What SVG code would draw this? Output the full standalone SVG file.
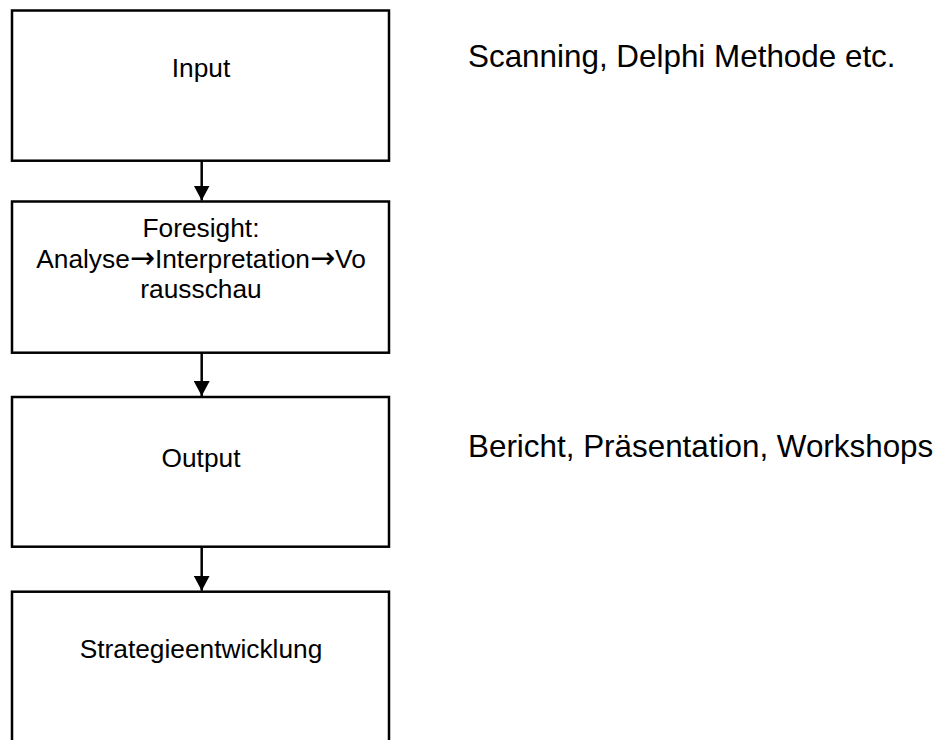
<svg xmlns="http://www.w3.org/2000/svg" width="946" height="740" viewBox="0 0 946 740">
  <defs>
    <style>
      .box { fill: #ffffff; stroke: #000000; stroke-width: 2.5; }
      .label { font-family: "Liberation Sans", Arial, sans-serif; font-size: 26.3px; fill: #000000; text-anchor: middle; }
      .sym { font-family: "DejaVu Sans", sans-serif; font-size: 30px; }
      .note { font-family: "Liberation Sans", Arial, sans-serif; font-size: 31.4px; fill: #000000; }
      .conn { stroke: #000000; stroke-width: 2.5; fill: none; }
    </style>
    <marker id="arrow" viewBox="0 0 15 16" refX="15" refY="8" markerWidth="15" markerHeight="16" markerUnits="userSpaceOnUse" orient="auto">
      <path d="M0,0 L15,8 L0,16 Z" fill="#000000"/>
    </marker>
  </defs>
  <rect width="946" height="740" fill="#ffffff"/>

  <!-- process steps -->
  <g id="node-input">
    <rect class="box" x="12" y="10.5" width="377" height="150.2"/>
    <text class="label" x="201" y="76.5">Input</text>
  </g>
  <g id="node-foresight">
    <rect class="box" x="12" y="201.5" width="377" height="151.2"/>
    <text class="label" x="201" y="237">Foresight:</text>
    <text class="label" x="201" y="267.5">Analyse<tspan class="sym">→</tspan>Interpretation<tspan class="sym">→</tspan>Vo</text>
    <text class="label" x="201" y="298">rausschau</text>
  </g>
  <g id="node-output">
    <rect class="box" x="12" y="397" width="377" height="149.7"/>
    <text class="label" x="201" y="466.7">Output</text>
  </g>
  <g id="node-strategie">
    <rect class="box" x="12" y="591.7" width="377" height="160"/>
    <text class="label" x="201" y="657.5">Strategieentwicklung</text>
  </g>

  <!-- side notes -->
  <g id="note-input">
    <text class="note" x="468" y="67.3">Scanning, Delphi Methode etc.</text>
  </g>
  <g id="note-output">
    <text class="note" x="468" y="456.8">Bericht, Präsentation, Workshops</text>
  </g>

  <!-- connectors -->
  <g id="connectors">
    <line class="conn" x1="201.7" y1="160.7" x2="201.7" y2="200.5" marker-end="url(#arrow)"/>
    <line class="conn" x1="201.7" y1="352.7" x2="201.7" y2="396" marker-end="url(#arrow)"/>
    <line class="conn" x1="201.7" y1="546.7" x2="201.7" y2="590.7" marker-end="url(#arrow)"/>
  </g>
</svg>
